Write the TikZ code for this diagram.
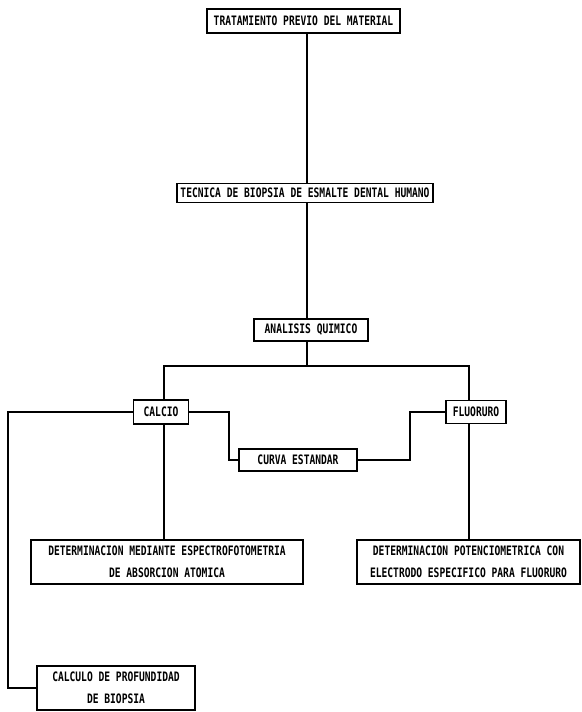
\documentclass[tikz,border=0pt]{standalone}
\usepackage{fontspec}
\newfontfamily\dotfont[FakeStretch=0.74]{DejaVu Sans Mono Bold}
\begin{document}
\begin{tikzpicture}[x=1pt,y=-1pt,
  box/.style={draw=black,line width=1.4pt,inner sep=0pt,align=center,
    font=\dotfont\fontsize{13}{22}\selectfont,text=black},
  conn/.style={draw=black,line width=1.4pt,line join=miter}]
\useasboundingbox (0,0) rectangle (581,712);
\fill[white] (0,0) rectangle (581,712);
% nodes
\node[box,minimum width=193pt,minimum height=24pt] (t1) at (303.5,21) {TRATAMIENTO PREVIO DEL MATERIAL};
\node[box,minimum width=256pt,minimum height=19pt] (t2) at (305,193) {TECNICA DE BIOPSIA DE ESMALTE DENTAL HUMANO};
\node[box,minimum width=114pt,minimum height=22pt] (t3) at (311,330) {ANALISIS QUIMICO};
\node[box,minimum width=55pt,minimum height=24pt] (ca) at (161,412) {CALCIO};
\node[box,minimum width=60pt,minimum height=23pt] (fl) at (476,412) {FLUORURO};
\node[box,minimum width=118pt,minimum height=22pt] (cu) at (298,460) {CURVA ESTANDAR};
\node[box,minimum width=272pt,minimum height=44pt] (d1) at (167,562) {DETERMINACION MEDIANTE ESPECTROFOTOMETRIA\\DE ABSORCION ATOMICA};
\node[box,minimum width=223pt,minimum height=44pt] (d2) at (468.5,562) {DETERMINACION POTENCIOMETRICA CON\\ELECTRODO ESPECIFICO PARA FLUORURO};
\node[box,minimum width=158pt,minimum height=44pt] (cb) at (116,688) {CALCULO DE PROFUNDIDAD\\DE BIOPSIA};
% helper coordinates
\coordinate (sp) at (307,0);
\coordinate (bar) at (0,366);
\coordinate (lc) at (164,0);
\coordinate (rc) at (469,0);
\coordinate (lft) at (8,0);
\coordinate (mid1) at (229,0);
\coordinate (mid2) at (410,0);
% connectors
\draw[conn] (t1.south -| sp) -- (t2.north -| sp);
\draw[conn] (t2.south -| sp) -- (t3.north -| sp);
\draw[conn] (t3.south -| sp) -- (bar -| sp);
\draw[conn] (ca.north -| lc) -- (bar -| lc) -- (bar -| rc) -- (fl.north -| rc);
\draw[conn] (ca.west) -- (ca.west -| lft) -- (cb.west -| lft) -- (cb.west);
\draw[conn] (ca.east) -- (ca.east -| mid1) -- (cu.west -| mid1) -- (cu.west);
\draw[conn] (cu.east) -- (cu.east -| mid2) -- (fl.west -| mid2) -- (fl.west);
\draw[conn] (ca.south -| lc) -- (d1.north -| lc);
\draw[conn] (fl.south -| rc) -- (d2.north -| rc);
\end{tikzpicture}
\end{document}
